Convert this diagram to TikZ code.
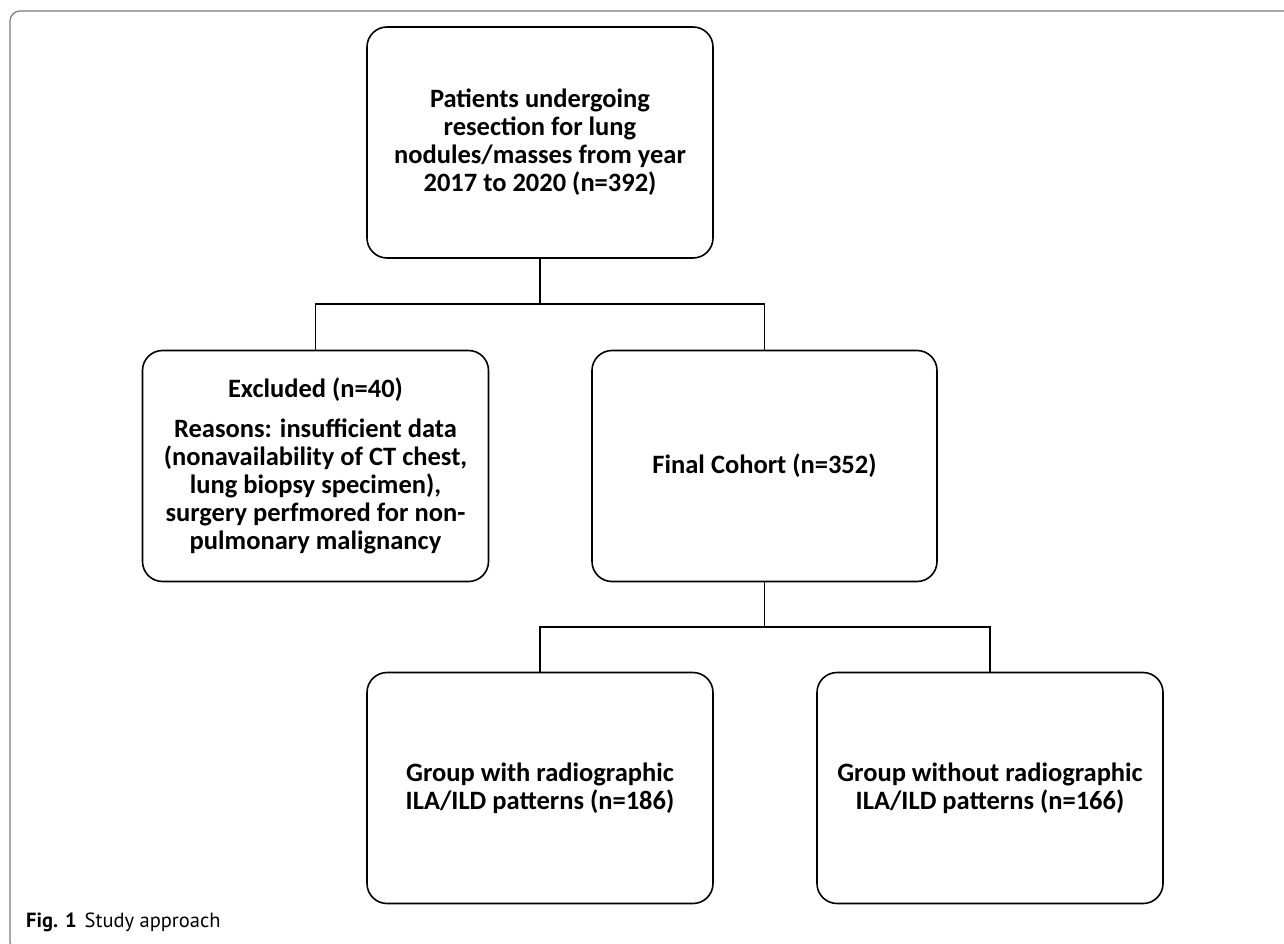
\documentclass[tikz,border=0pt]{standalone}
\usepackage{fontspec}
\setmainfont{Carlito}
\newfontfamily\capfont{PT Sans}
\definecolor{framegray}{HTML}{7A7A7A}
\tikzset{
  flowbox/.style={draw, line width=1.6pt, rounded corners=20pt, align=center,
    minimum width=346pt, minimum height=231pt, inner sep=6pt,
    font=\fontsize{26.5}{28}\selectfont\bfseries},
  link/.style={line width=1.6pt}
}
\begin{document}
\begin{tikzpicture}[x=1pt,y=-1pt]
\clip (0,0) rectangle (1284,944);
\fill[white] (0,0) rectangle (1284,944);
% outer frame
\draw[framegray, line width=1.2pt, rounded corners=10pt] (1300,11) -- (10,11) -- (10,952) -- (1300,952);
% boxes
\node[flowbox] (patients) at (540,142.5) {Patients undergoing\\resection for lung\\nodules/masses from year\\2017 to 2020 (n=392)};
\node[flowbox] (excluded) at (315.5,466) {Excluded (n=40)\\[12pt]Reasons: insufficient data\\(nonavailability of CT chest,\\lung biopsy specimen),\\surgery perfmored for non-\\pulmonary malignancy};
\node[flowbox, minimum width=345pt] (cohort) at (764.5,466) {Final Cohort (n=352)};
\node[flowbox] (withila) at (540,788) {Group with radiographic\\ILA/ILD patterns (n=186)};
\node[flowbox] (noila) at (990,788) {Group without radiographic\\ILA/ILD patterns (n=166)};
% connectors
\coordinate (split1) at (540,304);
\coordinate (split2) at (764.5,627);
\draw[link] (patients.south) -- (split1);
\draw[link] (excluded.north) |- (split1) -| (cohort.north);
\draw[link] (cohort.south) -- (split2);
\draw[link] (withila.north) |- (split2) -| (noila.north);
% caption
\node[anchor=base west, inner sep=0pt, font=\capfont\fontsize{20.5}{24}\selectfont] (caption) at (26,927) {\textbf{Fig. 1}\hspace{8pt}Study approach};
\end{tikzpicture}
\end{document}
